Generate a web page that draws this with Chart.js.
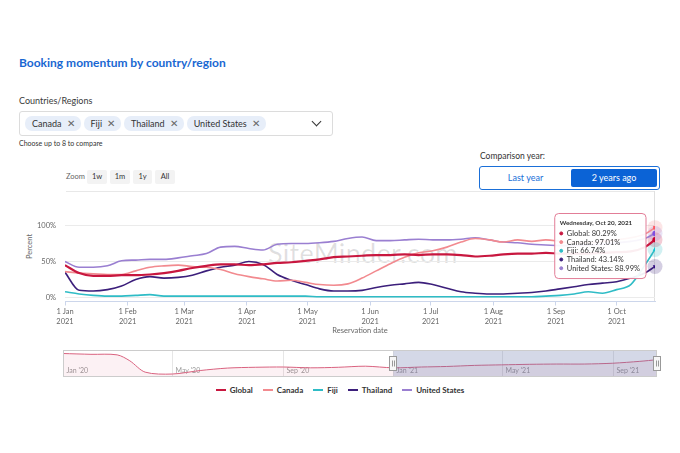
<!DOCTYPE html>
<html>
<head>
<meta charset="utf-8">
<script src="https://cdn.jsdelivr.net/npm/chart.js@4.4.0/dist/chart.umd.min.js"></script>
<style>
  body { margin: 0; width: 680px; height: 453px; background: #fff; font-family: Lato, "Open Sans", sans-serif; color: #333; position: relative; overflow: hidden; }
  .abs { position: absolute; white-space: nowrap; }
  .title { left: 19px; top: 55px; font-size: 12px; font-weight: bold; color: #1967d2; }
  .select { left: 19px; top: 111px; width: 307px; height: 23px; border: 1px solid #dcdcdc; border-radius: 3px; display: flex; align-items: center; padding-left: 5px; box-sizing: content-box; }
  .chip { background: #e7eef9; border-radius: 7px; height: 15px; line-height: 15px; font-size: 9px; padding: 0 6px 0 7px; margin-right: 3px; color: #333; }
  .chip .x { font-size: 9.5px; color: #666; margin-left: 5px; }
  .chev { position: absolute; right: 12px; top: 6px; width: 6px; height: 6px; border-right: 1.3px solid #333; border-bottom: 1.3px solid #333; transform: rotate(45deg); }
  .zoombtn { top: 170px; height: 14px; line-height: 14px; background: #f3f3f3; border-radius: 2px; font-size: 7.5px; text-align: center; color: #333; }
  .toggle { left: 479px; top: 166px; width: 179px; height: 22px; border: 1px solid #1a6fd8; border-radius: 3px; }
  .legend { left: 0; top: 385px; width: 680px; display: flex; justify-content: center; font-size: 8px; font-weight: bold; color: #333; }
  .legend span.item { display: flex; align-items: center; margin: 0 5px; }
  .legend span.mark { width: 10px; height: 2px; margin-right: 4px; display: inline-block; }
</style>
</head>
<body>
<div class="abs title">Booking momentum by country/region</div>
<div class="abs" style="left:19px;top:95px;font-size:9px;color:#3a3a3a;">Countries/Regions</div>
<div class="abs select">
  <span class="chip">Canada<span class="x">✕</span></span>
  <span class="chip">Fiji<span class="x">✕</span></span>
  <span class="chip">Thailand<span class="x">✕</span></span>
  <span class="chip">United States<span class="x">✕</span></span>
  <span class="chev"></span>
</div>
<div class="abs" style="left:19px;top:139px;font-size:7px;color:#333;">Choose up to 8 to compare</div>

<div class="abs" style="left:480px;top:151px;font-size:8.5px;color:#333;">Comparison year:</div>
<div class="abs toggle">
  <div class="abs" style="left:0;top:0;width:91px;height:22px;line-height:22px;text-align:center;font-size:9px;color:#1a6fd8;">Last year</div>
  <div class="abs" style="left:91px;top:2px;width:86px;height:18px;line-height:18px;text-align:center;font-size:9px;color:#fff;background:#0b63d6;border-radius:2px;">2 years ago</div>
</div>

<div class="abs" style="left:66px;top:172px;font-size:7.5px;color:#666;">Zoom</div>
<div class="abs zoombtn" style="left:87px;width:20px;">1w</div>
<div class="abs zoombtn" style="left:110px;width:20px;">1m</div>
<div class="abs zoombtn" style="left:133px;width:19px;">1y</div>
<div class="abs zoombtn" style="left:155px;width:20px;">All</div>
<div class="abs" style="left:66px;top:191px;width:588px;height:1px;background:#e8e8e8;"></div>
<div class="abs" style="left:654px;top:191px;width:1px;height:111px;background:#e0e0e0;"></div>

<div class="abs" style="left:268px;top:236px;font-size:27px;color:rgba(0,0,0,0.12);letter-spacing:0.3px;">SiteMinder.com</div>
<div class="abs" style="left:17px;top:242px;font-size:7.5px;color:#666;transform:rotate(-90deg);transform-origin:center;">Percent</div>

<canvas id="mainChart" class="abs" style="left:0;top:195px;" width="680" height="145"></canvas>
<canvas id="navChart" class="abs" style="left:0;top:346px;" width="680" height="34"></canvas>
<div class="abs legend" id="legend"></div>

<script>
// weekly samples, reservation date 2021
const dates = [
  '2021-01-01','2021-01-08','2021-01-15','2021-01-22','2021-01-29',
  '2021-02-05','2021-02-12','2021-02-19','2021-02-26',
  '2021-03-05','2021-03-12','2021-03-19','2021-03-26',
  '2021-04-02','2021-04-09','2021-04-16','2021-04-23','2021-04-30',
  '2021-05-07','2021-05-14','2021-05-21','2021-05-28',
  '2021-06-04','2021-06-11','2021-06-18','2021-06-25',
  '2021-07-02','2021-07-09','2021-07-16','2021-07-23','2021-07-30',
  '2021-08-06','2021-08-13','2021-08-20','2021-08-27',
  '2021-09-03','2021-09-10','2021-09-17','2021-09-24',
  '2021-10-01','2021-10-08','2021-10-15','2021-10-20'
];
const globalValues = [45,34,30,30,31,31,32,34,37,41,44,46,46,45,46,48,49,51,53,56,57,58,59,59,60,59,60,60,59,57,58,60,61,61,62,61,61,61,62,63,64,70,80.29];
const canadaValues = [36,34,33,32,32,37,42,44,45,43,42,39,33,29,26,23,24,21,18,17,19,27,37,47,56,62,65,70,77,82,80,77,80,78,80,78,76,76,78,80,83,88,97.01];
const fijiValues = [8,5,3,2,2,3,4,2,2,2,2,2,2,2,2,2,2,2,1,1,1,1,1,1,1,1,1,1,1,1,1,1,1,1,2,3,5,8,6,11,18,45,66.74];
const thailandValues = [35,10,9,11,16,25,29,27,28,31,37,42,45,50,46,32,24,18,12,9,9,10,14,17,19,21,18,13,8,6,5,5,6,7,9,12,15,18,20,22,27,34,43.14];
const usValues = [50,42,42,44,51,52,53,53,55,58,61,70,71,68,66,74,75,75,76,78,82,84,79,79,80,81,80,80,81,83,80,77,76,74,73,72,72,73,74,76,78,82,88.99];

const seriesNames = ['Global', 'Canada', 'Fiji', 'Thailand', 'United States'];
const seriesColors = ['#c8173f', '#f28a8f', '#2fbcc6', '#3c1f7b', '#9a7fd1'];
const markerStyles = ['circle', 'rect', 'triangle', 'triangle', 'circle'];

const tickDates = ['2021-01-01','2021-02-01','2021-03-01','2021-04-01','2021-05-01','2021-06-01','2021-07-01','2021-08-01','2021-09-01','2021-10-01'];
const tickLabels = [['1 Jan','2021'],['1 Feb','2021'],['1 Mar','2021'],['1 Apr','2021'],['1 May','2021'],['1 Jun','2021'],['1 Jul','2021'],['1 Aug','2021'],['1 Sep','2021'],['1 Oct','2021']];
const yTicks = [0, 50, 100];

// navigator (Global, 2020 - 2021)
const navDates = ['2020-01-01','2020-02-01','2020-03-01','2020-03-15','2020-04-01','2020-05-01','2020-06-01','2020-07-01','2020-08-01','2020-09-01','2020-10-01','2020-11-01','2020-12-01',
  '2021-01-01','2021-02-01','2021-03-01','2021-04-01','2021-05-01','2021-06-01','2021-07-01','2021-08-01','2021-09-01','2021-10-01','2021-10-20'];
const navValues = [87,84,82,60,18,11,24,33,36,37,34,36,40,34,37,39,43,45,47,48,48,51,58,64];
const navTickDates = ['2020-01-01','2020-05-01','2020-09-01','2021-01-01','2021-05-01','2021-09-01'];
const navTickLabels = ["Jan '20", "May '20", "Sep '20", "Jan '21", "May '21", "Sep '21"];

const seriesValues = [globalValues, canadaValues, fijiValues, thailandValues, usValues];
const lastIdx = dates.length - 1;
const dayOf = (d, base) => (Date.parse(d) - Date.parse(base)) / 86400000;

Chart.Tooltip.positioners.besideLast = function (items) {
  if (!items.length) return false;
  return { x: items[0].element.x - 13, y: this.chart.chartArea.top - 12 };
};

const haloPlugin = {
  id: 'halo',
  beforeDatasetsDraw(chart) {
    const ctx = chart.ctx;
    chart.data.datasets.forEach((ds, i) => {
      const pt = chart.getDatasetMeta(i).data[lastIdx];
      ctx.save();
      ctx.globalAlpha = 0.22;
      ctx.fillStyle = ds.borderColor;
      ctx.beginPath();
      ctx.arc(pt.x, pt.y, 7.5, 0, Math.PI * 2);
      ctx.fill();
      ctx.restore();
    });
  }
};

const mainChart = new Chart(document.getElementById('mainChart'), {
  type: 'line',
  data: {
    datasets: seriesNames.map((name, i) => ({
      label: name,
      data: seriesValues[i].map((v, j) => ({ x: dayOf(dates[j], dates[0]), y: v })),
      borderColor: seriesColors[i],
      backgroundColor: seriesColors[i],
      borderWidth: i === 0 ? 2.2 : 1.6,
      pointRadius: ctx => ctx.dataIndex === lastIdx ? 2.6 : 0,
      pointHoverRadius: ctx => ctx.dataIndex === lastIdx ? 2.6 : 0,
      pointBorderWidth: 0,
      pointHoverBorderWidth: 0,
      pointStyle: markerStyles[i],
      pointRotation: i === 3 ? 180 : 0,
      cubicInterpolationMode: 'monotone'
    }))
  },
  options: {
    responsive: false,
    animation: false,
    layout: { padding: { left: 0, right: 25, top: 30.5, bottom: 0 } },
    interaction: { mode: 'index', intersect: false },
    scales: {
      x: {
        type: 'linear',
        min: 0,
        max: dayOf(dates[lastIdx], dates[0]),
        afterBuildTicks: scale => { scale.ticks = tickDates.map(d => ({ value: dayOf(d, dates[0]) })); },
        afterFit: scale => { scale.height = 38.5; },
        grid: { drawOnChartArea: false, drawTicks: true, tickLength: 4, color: '#ccd6eb' },
        border: { color: '#ccd6eb' },
        ticks: {
          autoSkip: false, maxRotation: 0, padding: 1,
          color: '#666', font: { family: 'Lato', size: 7.5, lineHeight: 1.3 },
          callback: (v, i) => tickLabels[i]
        },
        title: { display: true, text: 'Reservation date', color: '#666', font: { family: 'Lato', size: 7.5 }, padding: { top: 0, bottom: 5 } }
      },
      y: {
        min: -5.5,
        max: 100,
        afterBuildTicks: scale => { scale.ticks = yTicks.map(v => ({ value: v })); },
        afterFit: scale => { scale.width = 65; },
        grid: { color: '#ebebeb', drawTicks: false },
        border: { display: false },
        ticks: { padding: 9, color: '#666', font: { family: 'Lato', size: 7.5 }, callback: v => v + '%' }
      }
    },
    plugins: {
      legend: { display: false },
      tooltip: {
        position: 'besideLast',
        xAlign: 'right',
        yAlign: 'top',
        caretSize: 0,
        caretPadding: 0,
        backgroundColor: 'rgba(255,255,255,0.93)',
        borderColor: '#e27d97',
        borderWidth: 1,
        cornerRadius: 4,
        padding: { top: 6, bottom: 6, left: 5, right: 6 },
        titleColor: '#333',
        titleFont: { family: 'Lato', size: 6.3, weight: 'bold' },
        titleMarginBottom: 2,
        bodyColor: '#333',
        bodyFont: { family: 'Lato', size: 7.5, lineHeight: 1.16 },
        bodySpacing: 0,
        usePointStyle: true,
        boxWidth: 3,
        boxHeight: 3,
        boxPadding: 2,
        callbacks: {
          title: items => new Date(dates[items[0].dataIndex]).toLocaleDateString('en-US', { weekday: 'long', month: 'short', day: 'numeric', year: 'numeric', timeZone: 'UTC' }),
          label: item => item.dataset.label + ': ' + item.parsed.y.toFixed(2) + '%',
          labelPointStyle: () => ({ pointStyle: 'circle', rotation: 0 }),
          labelColor: item => ({ borderColor: item.dataset.borderColor, backgroundColor: item.dataset.borderColor, borderWidth: 0 })
        }
      }
    }
  },
  plugins: [haloPlugin]
});

const activeEls = seriesNames.map((n, i) => ({ datasetIndex: i, index: lastIdx }));
mainChart.setActiveElements(activeEls);
mainChart.tooltip.setActiveElements(activeEls, { x: 0, y: 0 });
mainChart.update('none');

// navigator
const navStart = navDates[0];
const selStart = '2021-01-01';
const navPlugin = {
  id: 'navDecor',
  beforeDatasetsDraw(chart) {
    const { ctx, chartArea: a, scales } = chart;
    ctx.save();
    ctx.strokeStyle = '#e6e6e6';
    ctx.lineWidth = 1;
    ctx.font = '7px Lato';
    ctx.fillStyle = '#999';
    ctx.textBaseline = 'middle';
    navTickDates.forEach((d, i) => {
      const x = Math.round(scales.x.getPixelForValue(dayOf(d, navStart))) + 0.5;
      ctx.beginPath(); ctx.moveTo(x, a.top); ctx.lineTo(x, a.bottom); ctx.stroke();
      ctx.fillText(navTickLabels[i], x + 3, a.bottom - 6);
    });
    ctx.restore();
  },
  afterDatasetsDraw(chart) {
    const { ctx, chartArea: a, scales } = chart;
    const x0 = scales.x.getPixelForValue(dayOf(selStart, navStart));
    const x1 = a.right;
    ctx.save();
    ctx.fillStyle = 'rgba(102,114,170,0.28)';
    ctx.fillRect(x0, a.top, x1 - x0, a.bottom - a.top);
    ctx.strokeStyle = '#cccccc';
    ctx.lineWidth = 1;
    ctx.strokeRect(a.left + 0.5, a.top + 0.5, a.right - a.left - 1, a.bottom - a.top - 1);
    [x0, x1].forEach(x => {
      const cy = (a.top + a.bottom) / 2;
      ctx.fillStyle = '#f7f7f7';
      ctx.strokeStyle = '#999';
      ctx.fillRect(Math.round(x) - 3.5, cy - 7, 7, 14);
      ctx.strokeRect(Math.round(x) - 3.5, cy - 7, 7, 14);
      ctx.beginPath();
      ctx.moveTo(Math.round(x) - 0.5, cy - 3); ctx.lineTo(Math.round(x) - 0.5, cy + 3);
      ctx.moveTo(Math.round(x) + 1.5, cy - 3); ctx.lineTo(Math.round(x) + 1.5, cy + 3);
      ctx.stroke();
    });
    ctx.restore();
  }
};

new Chart(document.getElementById('navChart'), {
  type: 'line',
  data: {
    datasets: [{
      data: navValues.map((v, i) => ({ x: dayOf(navDates[i], navStart), y: v })),
      borderColor: '#d9627f',
      borderWidth: 1,
      backgroundColor: 'rgba(200,23,63,0.06)',
      fill: 'origin',
      pointRadius: 0,
      tension: 0.3
    }]
  },
  options: {
    responsive: false,
    animation: false,
    layout: { padding: { left: 63, right: 23, top: 4, bottom: 3 } },
    scales: {
      x: { type: 'linear', display: false, min: 0, max: dayOf(navDates[navDates.length - 1], navStart) },
      y: { display: false, min: 0, max: 100 }
    },
    plugins: { legend: { display: false }, tooltip: { enabled: false } }
  },
  plugins: [navPlugin]
});

// legend
const legendEl = document.getElementById('legend');
seriesNames.forEach((name, i) => {
  const item = document.createElement('span');
  item.className = 'item';
  item.innerHTML = '<span class="mark" style="background:' + seriesColors[i] + '"></span>' + name;
  legendEl.appendChild(item);
});
</script>
</body>
</html>
